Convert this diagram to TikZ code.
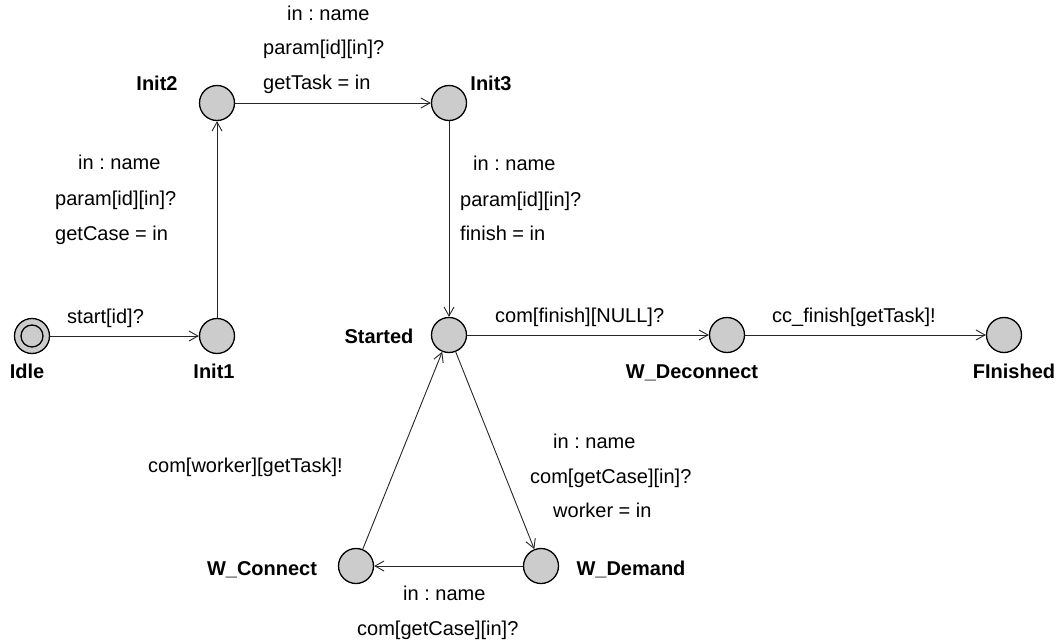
\documentclass[tikz,border=0pt]{standalone}
\usepackage{fontspec}
\setmainfont{Liberation Sans}
\usetikzlibrary{arrows.meta}
\frenchspacing

\begin{document}
\begin{tikzpicture}[
	x=1pt, y=-1pt,
	line join=round,
	line cap=round,
	>={Straight Barb[length=9pt,width=10pt]},
	font=\fontsize{20}{24}\selectfont,
	state/.style={circle, draw=black, line width=1.3pt, fill=gray!40, minimum size=35pt, inner sep=0pt},
	sname/.style={font=\fontsize{20}{24}\selectfont\bfseries, anchor=base},
	lbl/.style={anchor=base west, inner sep=0pt},
	edge/.style={->, line width=0.9pt, draw=black!85}
	]
	
	% Khung
	\useasboundingbox (0,0) rectangle (1063,642);
	
	% Trạng thái
	\foreach \n/\x/\y in {
		idle/32/336,
		init1/217/336,
		init2/217/103,
		init3/449/103,
		started/449/335,
		wdec/727/335,
		fin/1004/335,
		wcon/356/566,
		wdem/541/566
	}{
		\node[state] (\n) at (\x,\y) {};
	}
	\node[circle, draw=black, line width=1.3pt, minimum size=22pt, inner sep=0pt] (idle-in) at (idle) {};
	
	% Tên trạng thái
	\node[sname] (idle-n) at (27,378) {Idle};
	\node[sname] (init1-n) at (214,378) {Init1};
	\node[sname] (init2-n) at (157,90) {Init2};
	\node[sname] (init3-n) at (491,90) {Init3};
	\node[sname] (started-n) at (379,343) {Started};
	\node[sname] (wdec-n) at (692,378) {W\_Deconnect};
	\node[sname] (fin-n) at (1014,378) {FInished};
	\node[sname] (wcon-n) at (262,575) {W\_Connect};
	\node[sname] (wdem-n) at (631,575) {W\_Demand};
	
	% Chuyển trạng thái
	\draw[edge] (idle) -- (init1);
	\draw[edge] (init1) -- (init2);
	\draw[edge] (init2) -- (init3);
	\draw[edge] (init3) -- (started);
	\draw[edge] (started) -- (wdec);
	\draw[edge] (wdec) -- (fin);
	\draw[edge] (started) -- (wdem);
	\draw[edge] (wdem) -- (wcon);
	\draw[edge] (wcon) -- (started);
	
	% Nhãn
	\node[lbl] (s1) at (67,323) {start[id]?};
	
	\node[lbl] (a1) at (78,169) {in : name};
	\node[lbl] (a2) at (55,205) {param[id][in]?};
	\node[lbl] (a3) at (55,240) {getCase = in};
	
	\node[lbl] (b1) at (287,21) {in : name};
	\node[lbl] (b2) at (263,55) {param[id][in]?};
	\node[lbl] (b3) at (263,89) {getTask = in};
	
	\node[lbl] (c1) at (473,170) {in : name};
	\node[lbl] (c2) at (460,206) {param[id][in]?};
	\node[lbl] (c3) at (460,240) {finish = in};
	
	\node[lbl] (d1) at (495,322) {com[finish][NULL]?};
	\node[lbl] (e1) at (772,322) {cc\_finish[getTask]!};
	
	\node[lbl] (f1) at (553,448) {in : name};
	\node[lbl] (f2) at (530,483) {com[getCase][in]?};
	\node[lbl] (f3) at (553,517) {worker = in};
	
	\node[lbl] (g1) at (403,600) {in : name};
	\node[lbl] (g2) at (357,635) {com[getCase][in]?};
	
	\node[lbl] (h1) at (148,472) {com[worker][getTask]!};
	
\end{tikzpicture}
\end{document}
